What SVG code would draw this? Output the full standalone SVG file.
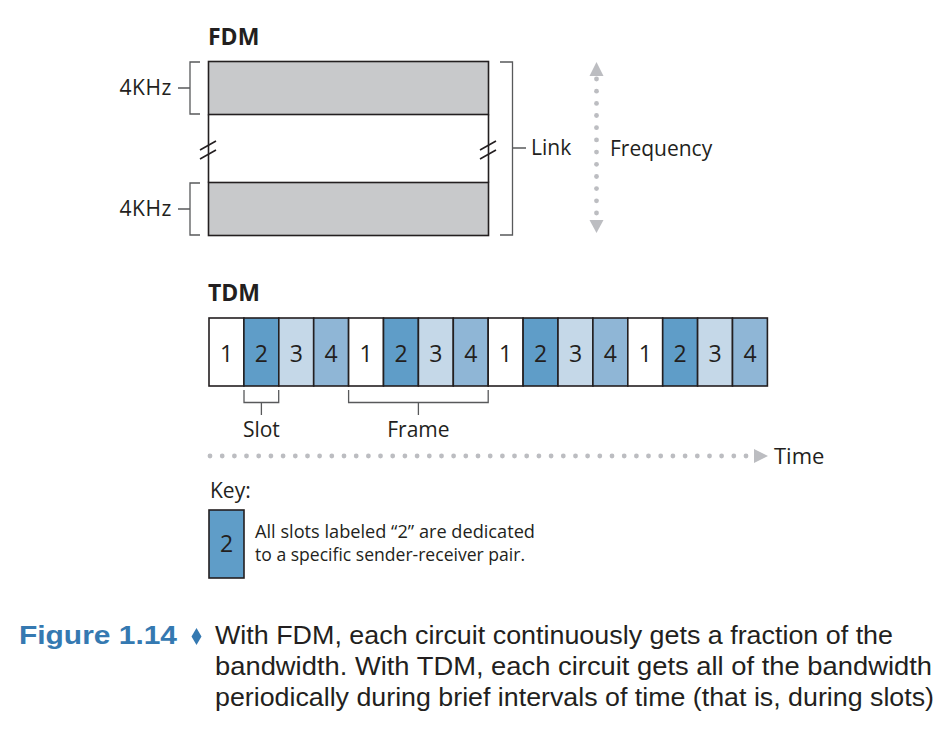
<svg xmlns="http://www.w3.org/2000/svg" width="952" height="742" viewBox="0 0 952 742">
<defs>
<style>
.t{font-family:"Open Sans","Noto Sans","DejaVu Sans",sans-serif;fill:#231f20}
.b{font-weight:bold}
.ln{fill:none;stroke:#231f20;stroke-width:1.6}
.br{fill:none;stroke:#58595b;stroke-width:1.3}
.c{stroke:#231f20;stroke-width:1.6}
.w{fill:#ffffff}.s2{fill:#5f9dc8}.s3{fill:#c5d8e8}.s4{fill:#8fb6d6}
.dot{fill:#bcbdc1}
.cap{font-family:"Liberation Sans",Arial,sans-serif;font-size:26px;fill:#231f20}
</style>
</defs>
<rect width="952" height="742" fill="#ffffff"/>

<g id="fdm">
<text class="t b" x="208" y="45" font-size="23">FDM</text>
<rect x="208.5" y="61.5" width="280" height="53" fill="#c8c9cb" class="c"/>
<rect x="208.5" y="182.5" width="280" height="53" fill="#c8c9cb" class="c"/>
<path class="ln" d="M208.5,114.5V182.5M488.5,114.5V182.5"/>
<path class="ln" d="M200,150L216,141M200,159L216,150M480,150L496,141M480,159L496,150" stroke-width="1.4"/>
<path class="br" d="M200,62H190V114H200M178,88H190"/>
<path class="br" d="M200,183H190V235H200M178,209H190"/>
<text class="t" x="172" y="95" font-size="21" letter-spacing="0.6" text-anchor="end">4KHz</text>
<text class="t" x="172" y="216" font-size="21" letter-spacing="0.6" text-anchor="end">4KHz</text>
<path class="br" d="M500,62H512.5V235H500M512.5,148H526"/>
<text class="t" x="531" y="155" font-size="21">Link</text>
</g>

<g id="frequency">
<polygon class="dot" points="596.5,62 603.5,76 589.5,76"/>
<g class="dot">
<circle cx="596.5" cy="79" r="2.4"/><circle cx="596.5" cy="91.2" r="2.4"/><circle cx="596.5" cy="103.4" r="2.4"/><circle cx="596.5" cy="115.5" r="2.4"/><circle cx="596.5" cy="127.7" r="2.4"/><circle cx="596.5" cy="139.9" r="2.4"/><circle cx="596.5" cy="152.1" r="2.4"/><circle cx="596.5" cy="164.3" r="2.4"/><circle cx="596.5" cy="176.5" r="2.4"/><circle cx="596.5" cy="188.6" r="2.4"/><circle cx="596.5" cy="200.8" r="2.4"/><circle cx="596.5" cy="213" r="2.4"/>
</g>
<polygon class="dot" points="589.5,220 603.5,220 596.5,233"/>
<text class="t" x="610" y="156" font-size="21">Frequency</text>
</g>

<g id="tdm">
<text class="t b" x="208" y="301" font-size="23">TDM</text>
<g class="c">
<rect class="w" x="209" y="318" width="34.9" height="68"/>
<rect class="s2" x="243.9" y="318" width="34.9" height="68"/>
<rect class="s3" x="278.8" y="318" width="34.9" height="68"/>
<rect class="s4" x="313.7" y="318" width="34.9" height="68"/>
<rect class="w" x="348.6" y="318" width="34.9" height="68"/>
<rect class="s2" x="383.5" y="318" width="34.9" height="68"/>
<rect class="s3" x="418.4" y="318" width="34.9" height="68"/>
<rect class="s4" x="453.3" y="318" width="34.9" height="68"/>
<rect class="w" x="488.2" y="318" width="34.9" height="68"/>
<rect class="s2" x="523.1" y="318" width="34.9" height="68"/>
<rect class="s3" x="558" y="318" width="34.9" height="68"/>
<rect class="s4" x="592.9" y="318" width="34.9" height="68"/>
<rect class="w" x="627.8" y="318" width="34.9" height="68"/>
<rect class="s2" x="662.7" y="318" width="34.9" height="68"/>
<rect class="s3" x="697.6" y="318" width="34.9" height="68"/>
<rect class="s4" x="732.5" y="318" width="34.9" height="68"/>
</g>
<g class="t" font-size="23" text-anchor="middle">
<text x="226.5" y="362">1</text><text x="261.4" y="362">2</text><text x="296.3" y="362">3</text><text x="331.2" y="362">4</text>
<text x="366.1" y="362">1</text><text x="401" y="362">2</text><text x="435.9" y="362">3</text><text x="470.8" y="362">4</text>
<text x="505.7" y="362">1</text><text x="540.6" y="362">2</text><text x="575.5" y="362">3</text><text x="610.4" y="362">4</text>
<text x="645.3" y="362">1</text><text x="680.2" y="362">2</text><text x="715.1" y="362">3</text><text x="750" y="362">4</text>
</g>
</g>

<g id="slot">
<path class="br" d="M244,390V402.5H278.7V390M261.4,402.5V415"/>
<text class="t" x="261.4" y="437" font-size="21" text-anchor="middle">Slot</text>
</g>
<g id="frame">
<path class="br" d="M348.6,390V402.5H488.2V390M418.4,402.5V415"/>
<text class="t" x="418.4" y="437" font-size="21" text-anchor="middle">Frame</text>
</g>

<g id="time">
<g class="dot">
<circle cx="210" cy="456" r="2.4"/><circle cx="222.2" cy="456" r="2.4"/><circle cx="234.4" cy="456" r="2.4"/><circle cx="246.5" cy="456" r="2.4"/><circle cx="258.7" cy="456" r="2.4"/><circle cx="270.9" cy="456" r="2.4"/><circle cx="283.1" cy="456" r="2.4"/><circle cx="295.3" cy="456" r="2.4"/><circle cx="307.5" cy="456" r="2.4"/><circle cx="319.6" cy="456" r="2.4"/><circle cx="331.8" cy="456" r="2.4"/><circle cx="344" cy="456" r="2.4"/><circle cx="356.2" cy="456" r="2.4"/><circle cx="368.4" cy="456" r="2.4"/><circle cx="380.5" cy="456" r="2.4"/><circle cx="392.7" cy="456" r="2.4"/><circle cx="404.9" cy="456" r="2.4"/><circle cx="417.1" cy="456" r="2.4"/><circle cx="429.3" cy="456" r="2.4"/><circle cx="441.5" cy="456" r="2.4"/><circle cx="453.6" cy="456" r="2.4"/><circle cx="465.8" cy="456" r="2.4"/><circle cx="478" cy="456" r="2.4"/><circle cx="490.2" cy="456" r="2.4"/><circle cx="502.4" cy="456" r="2.4"/><circle cx="514.5" cy="456" r="2.4"/><circle cx="526.7" cy="456" r="2.4"/><circle cx="538.9" cy="456" r="2.4"/><circle cx="551.1" cy="456" r="2.4"/><circle cx="563.3" cy="456" r="2.4"/><circle cx="575.5" cy="456" r="2.4"/><circle cx="587.6" cy="456" r="2.4"/><circle cx="599.8" cy="456" r="2.4"/><circle cx="612" cy="456" r="2.4"/><circle cx="624.2" cy="456" r="2.4"/><circle cx="636.4" cy="456" r="2.4"/><circle cx="648.5" cy="456" r="2.4"/><circle cx="660.7" cy="456" r="2.4"/><circle cx="672.9" cy="456" r="2.4"/><circle cx="685.1" cy="456" r="2.4"/><circle cx="697.3" cy="456" r="2.4"/><circle cx="709.5" cy="456" r="2.4"/><circle cx="721.6" cy="456" r="2.4"/><circle cx="733.8" cy="456" r="2.4"/><circle cx="746" cy="456" r="2.4"/>
</g>
<polygon class="dot" points="754,449 768,456 754,463"/>
<text class="t" x="774" y="464" font-size="22">Time</text>
</g>

<g id="key">
<text class="t" x="210" y="498" font-size="21">Key:</text>
<rect class="s2 c" x="209" y="510" width="35" height="68"/>
<text class="t" x="226.5" y="552" font-size="23" text-anchor="middle">2</text>
<text class="t" x="255" y="538" font-size="18" textLength="280" lengthAdjust="spacingAndGlyphs">All slots labeled “2” are dedicated</text>
<text class="t" x="255" y="561" font-size="18" textLength="270" lengthAdjust="spacingAndGlyphs">to a specific sender-receiver pair.</text>
</g>

<g id="caption">
<text class="cap" x="177" y="644" font-weight="bold" style="fill:#3579b1" text-anchor="end" textLength="158" lengthAdjust="spacingAndGlyphs">Figure 1.14</text>
<polygon points="196.5,628 201.5,636.5 196.5,645 191.5,636.5" fill="#3579b1"/>
<text class="cap" x="215" y="644" textLength="678" lengthAdjust="spacingAndGlyphs">With FDM, each circuit continuously gets a fraction of the</text>
<text class="cap" x="215" y="675" textLength="717" lengthAdjust="spacingAndGlyphs">bandwidth. With TDM, each circuit gets all of the bandwidth</text>
<text class="cap" x="215" y="706" textLength="719" lengthAdjust="spacingAndGlyphs">periodically during brief intervals of time (that is, during slots)</text>
</g>
</svg>
